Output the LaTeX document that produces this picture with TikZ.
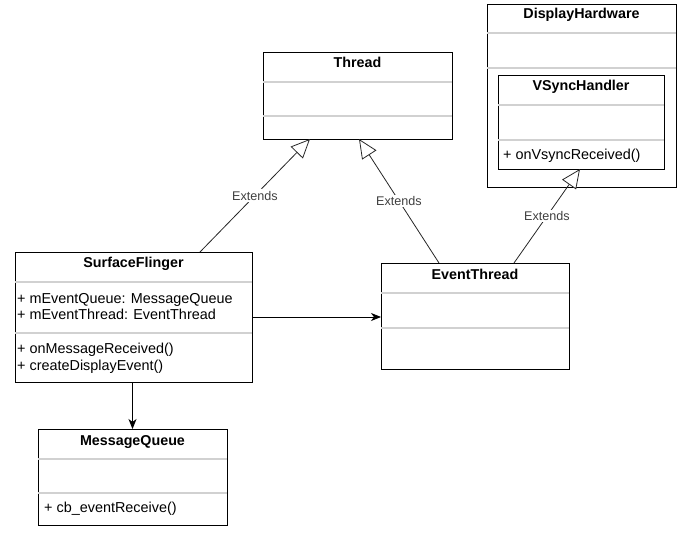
\documentclass[tikz,border=0pt]{standalone}
\usepackage{fontspec}
\setmainfont{Liberation Sans}
\usetikzlibrary{arrows.meta,calc}
\tikzset{
  cls/.style={draw=black, line width=0.9pt, fill=white, inner sep=0pt, outer sep=0pt, anchor=north west},
  sep/.style={draw=black!18, line width=1.4pt},
  ttl/.style={anchor=base, inner sep=0pt, font=\fontsize{14.3}{16}\selectfont\bfseries},
  mem/.style={anchor=base west, inner sep=0pt, font=\fontsize{14.4}{16}\selectfont},
  ext/.style={fill=white, inner sep=1.5pt, text=black!75, font=\fontsize{12.6}{14}\selectfont},
  gen/.style={draw=black!85, line width=0.8pt, -{Triangle[fill=white, length=19pt, width=17pt]}},
  assoc/.style={draw=black, line width=0.9pt, -{Stealth[length=10pt, width=8pt, inset=3pt]}}
}
\begin{document}
\begin{tikzpicture}[x=1pt, y=-1pt]
\useasboundingbox (0,0) rectangle (694,535);

% Thread
\node[cls, minimum width=189pt, minimum height=87pt] (thread) at (263,52) {};
\draw[sep] (263,82) -- (452,82);
\draw[sep] (263,116) -- (452,116);
\node[ttl] (threadt) at (357.5,67) {Thread};

% DisplayHardware
\node[cls, minimum width=189pt, minimum height=183pt] (dh) at (487,4) {};
\draw[sep] (487,33) -- (676,33);
\draw[sep] (487,68) -- (676,68);
\node[ttl] (dht) at (581.5,19) {DisplayHardware};

% VSyncHandler
\node[cls, minimum width=166pt, minimum height=94pt] (vs) at (498,75) {};
\draw[sep] (498,105) -- (664,105);
\draw[sep] (498,140) -- (664,140);
\node[ttl] (vst) at (581,91) {VSyncHandler};
\node[mem] (vsm) at (503,159) {+ onVsyncReceived()};

% SurfaceFlinger
\node[cls, minimum width=237pt, minimum height=130pt] (sf) at (15,252) {};
\draw[sep] (15,282) -- (252,282);
\draw[sep] (15,333) -- (252,333);
\node[ttl] (sft) at (133.5,267) {SurfaceFlinger};
\node[mem] (sfa1) at (17,303) {+ mEventQueue: MessageQueue};
\node[mem] (sfa2) at (17,319) {+ mEventThread: EventThread};
\node[mem] (sfm1) at (17,353) {+ onMessageReceived()};
\node[mem] (sfm2) at (17,370) {+ createDisplayEvent()};

% EventThread
\node[cls, minimum width=188pt, minimum height=106pt] (et) at (381,263) {};
\draw[sep] (381,293) -- (569,293);
\draw[sep] (381,328) -- (569,328);
\node[ttl] (ett) at (475,279) {EventThread};

% MessageQueue
\node[cls, minimum width=189pt, minimum height=96pt] (mq) at (38,429) {};
\draw[sep] (38,459) -- (227,459);
\draw[sep] (38,493) -- (227,493);
\node[ttl] (mqt) at (132.5,445) {MessageQueue};
\node[mem] (mqm) at (44,512) {+ cb\_eventReceive()};

% Connectors
\draw[gen] ([xshift=185pt]sf.north west) -- node[ext] {Extends} ([xshift=47pt]thread.south west);
\draw[gen] ([xshift=58pt]et.north west) -- node[ext] {Extends} ([xshift=96pt]thread.south west);
\draw[gen] ([xshift=133pt]et.north west) -- node[ext] {Extends} ([xshift=82pt]vs.south west);
\draw[assoc] ([yshift=-65pt]sf.north east) -- ([yshift=-54pt]et.north west);
\draw[assoc] (sf.south -| mq.north) -- (mq.north);
\end{tikzpicture}
\end{document}
